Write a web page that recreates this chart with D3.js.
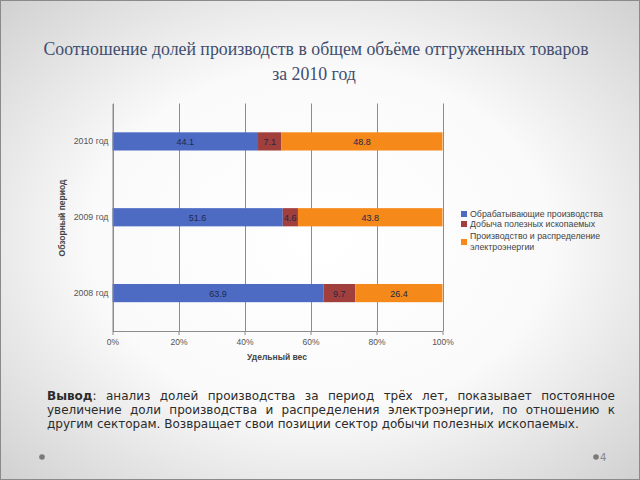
<!DOCTYPE html>
<html><head><meta charset="utf-8">
<script src="https://cdn.jsdelivr.net/npm/d3@7"></script>
<style>
html,body{margin:0;padding:0;}
body{width:640px;height:480px;overflow:hidden;}
</style>
</head><body>
<svg id="c" width="640" height="480"></svg>
<script>
const years = ["2010 год", "2009 год", "2008 год"];
const seriesNames = ["Обрабатывающие производства", "Добыча полезных ископаемых", "Производство и распределение электроэнергии"];
const manufacturing = [44.1, 51.6, 63.9];
const mining = [7.1, 4.6, 9.7];
const energy = [48.8, 43.8, 26.4];
const xTicks = [0, 20, 40, 60, 80, 100];
const colors = ["#4d6bc3", "#a03f3c", "#f5891a"];

const svg = d3.select("#c");
const defs = svg.append("defs");
const rg = defs.append("radialGradient").attr("id","bg").attr("cx","50%").attr("cy","50%").attr("r","72%");
rg.append("stop").attr("offset","0%").attr("stop-color","#ffffff");
rg.append("stop").attr("offset","50%").attr("stop-color","#fafafa");
rg.append("stop").attr("offset","100%").attr("stop-color","#cfcfcf");
svg.append("rect").attr("width",640).attr("height",480).attr("fill","url(#bg)");
svg.append("rect").attr("x",0.5).attr("y",0.5).attr("width",639).attr("height",479).attr("fill","none").attr("stroke","#8a8a8a").attr("stroke-width",1);

// Title
const titleFont = "'Liberation Serif','DejaVu Serif',serif";
svg.append("text").attr("x",316).attr("y",55).attr("text-anchor","middle")
  .attr("font-family",titleFont).attr("font-size",17.8).attr("fill","#404e70")
  .text("Соотношение долей производств в общем объёме отгруженных товаров");
svg.append("text").attr("x",314).attr("y",80).attr("text-anchor","middle")
  .attr("font-family",titleFont).attr("font-size",17.8).attr("fill","#404e70")
  .text("за 2010 год");

const pL = 112.5, pR = 442.5, pT = 103.5, pB = 331;
const x = d3.scaleLinear().domain([0,100]).range([pL,pR]);
const y = d3.scaleBand().domain(years).range([pT,pB]).paddingInner(0.76).paddingOuter(0.38);

// gridlines
svg.append("g").selectAll("line").data(xTicks).join("line")
  .attr("x1",d=>Math.round(x(d))+0.5).attr("x2",d=>Math.round(x(d))+0.5)
  .attr("y1",pT).attr("y2",pB).attr("stroke","#8c8c8c").attr("stroke-width",1);

// stacked bars
const rows = years.map((yr,i)=>({year:yr, v:[manufacturing[i], mining[i], energy[i]]}));
const g = svg.append("g");
rows.forEach(r=>{
  let acc = 0;
  r.v.forEach((val,k)=>{
    const x0 = x(acc), x1 = x(acc+val);
    g.append("rect").attr("x",x0).attr("y",y(r.year)).attr("width",x1-x0).attr("height",y.bandwidth()).attr("fill",colors[k]);
    g.append("text").attr("x",(x0+x1)/2).attr("y",y(r.year)+y.bandwidth()/2+3.5).attr("text-anchor","middle")
      .attr("font-family","'Liberation Sans',Arial,sans-serif").attr("font-size",9).attr("fill","#22284a")
      .text(val.toFixed(1));
    acc += val;
  });
});

// x axis
const xa = svg.append("g").attr("transform",`translate(0,${pB})`)
  .call(d3.axisBottom(x).tickValues(xTicks).tickFormat(d=>d+"%").tickSize(4).tickSizeOuter(0));
xa.select(".domain").attr("stroke","#8c8c8c");
xa.selectAll(".tick line").attr("stroke","#8c8c8c");
xa.selectAll("text").attr("font-family","'Liberation Sans',Arial,sans-serif").attr("font-size",8.5).attr("fill","#555").attr("dy","0.85em");

// y axis
const ya = svg.append("g").attr("transform",`translate(${pL},0)`)
  .call(d3.axisLeft(y).tickSize(0).tickPadding(4));
ya.select(".domain").attr("stroke","#8c8c8c");
ya.selectAll("text").attr("font-family","'Liberation Sans',Arial,sans-serif").attr("font-size",8.8).attr("fill","#555");

// axis titles
svg.append("text").attr("x",277).attr("y",360).attr("text-anchor","middle")
  .attr("font-family","'Liberation Sans',Arial,sans-serif").attr("font-size",8.5).attr("font-weight","bold").attr("fill","#444")
  .text("Удельный вес");
svg.append("text").attr("transform","translate(65,218) rotate(-90)").attr("text-anchor","middle")
  .attr("font-family","'Liberation Sans',Arial,sans-serif").attr("font-size",8.5).attr("font-weight","bold").attr("fill","#444")
  .text("Обзорный период");

// legend
const lg = svg.append("g").attr("font-family","'Liberation Sans',Arial,sans-serif").attr("font-size",8.8).attr("fill","#444");
const legLines = [[seriesNames[0]],[seriesNames[1]],["Производство и распределение","электроэнергии"]];
const legY = [217, 227, 239];
const sqY = [214, 224, 242];
legLines.forEach((ls,i)=>{
  lg.append("rect").attr("x",461).attr("y",sqY[i]-3).attr("width",6).attr("height",6).attr("fill",colors[i]);
  ls.forEach((t,j)=>{
    lg.append("text").attr("x",470).attr("y",legY[i]+j*11).text(t);
  });
});

// conclusion text (justified by word spacing)
const tf = "'DejaVu Sans',Verdana,sans-serif";
const fs = 12;
const lines = [
  {bold:"Вывод", rest:": анализ долей производства за период трёх лет, показывает постоянное", justify:true},
  {bold:"", rest:"увеличение доли производства и распределения электроэнергии, по отношению к", justify:true},
  {bold:"", rest:"другим секторам. Возвращает свои позиции сектор добычи полезных ископаемых.", justify:false}
];
const ly = [400, 414, 428];
const tx0 = 47, tx1 = 615;
lines.forEach((l,i)=>{
  // build words: first word may include bold part
  const words = l.rest.split(" ");
  const items = [];
  words.forEach((w,wi)=>{
    if (wi===0 && l.bold) items.push([{t:l.bold,b:true},{t:w,b:false}]);
    else items.push([{t:w,b:false}]);
  });
  const wg = svg.append("g");
  const nodes = items.map(parts=>{
    const t = wg.append("text").attr("y",ly[i]).attr("font-family",tf).attr("font-size",fs).attr("fill","#2b2b2b");
    parts.forEach(p=>{ const s=t.append("tspan").text(p.t); if(p.b) s.attr("font-weight","bold"); });
    return t;
  });
  const widths = nodes.map(n=>n.node().getComputedTextLength());
  const total = d3.sum(widths);
  const spaceW = fs*0.318;
  const gap = l.justify ? (tx1-tx0-total)/(nodes.length-1) : spaceW;
  let cx = tx0;
  nodes.forEach((n,k)=>{ n.attr("x",cx); cx += widths[k]+gap; });
});

// footer dots
svg.append("circle").attr("cx",42).attr("cy",457).attr("r",2.8).attr("fill","#7a7a7a");
svg.append("circle").attr("cx",596).attr("cy",457).attr("r",2.8).attr("fill","#7a7a7a");
svg.append("text").attr("x",600).attr("y",461).attr("font-family",tf).attr("font-size",10).attr("fill","#888").text("4");
</script>
</body></html>
